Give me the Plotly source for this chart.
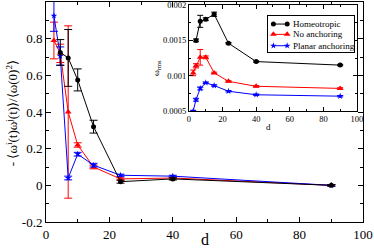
import plotly.graph_objects as go

# ---- data ----
d_main_h = [4.5, 7, 10, 15, 23.5, 40, 90]
corr_h = [0.725, 0.695, 0.575, 0.32, 0.02, 0.035, 0.0]
corr_h_err = [0.07, 0.155, 0.06, 0.035, 0.008, 0.006, 0.004]

d_main = [2.5, 4.5, 7, 10, 15, 23.5, 40, 90]
corr_n = [0.79, 0.72, 0.40, 0.22, 0.10, 0.035, 0.04, 0.0]
corr_n_err = [0.10, 0.05, 0.47, 0.012, 0.01, 0.006, 0.005, 0.004]
corr_p = [0.925, 0.705, 0.04, 0.17, 0.11, 0.055, 0.05, 0.0]
corr_p_err = [0.085, 0.05, 0.01, 0.01, 0.01, 0.006, 0.005, 0.004]

d_in_h = [4.2, 6.7, 10, 15, 23.5, 40, 90]
rms_h = [0.00150, 0.00177, 0.00180, 0.00187, 0.00146, 0.00120, 0.00115]
rms_h_err = [0.00002, 0.000085, 0.00002, 0.00003, 0.00001, 0.00001, 0.00001]

d_in = [2.5, 4.2, 6.7, 10, 15, 23.5, 40, 90]
rms_n = [0.00104, 0.00114, 0.00126, 0.00126, 0.00104, 0.00092, 0.00085, 0.00082]
rms_n_err = [0.00004, 0.00003, 0.00011, 0.00002, 0.00001, 0.00001, 0.00001, 0.00001]
rms_p = [0.00050, 0.00066, 0.00082, 0.00090, 0.00086, 0.00078, 0.00073, 0.00071]
rms_p_err = [0.00001, 0.00002, 0.00002, 0.00001, 0.00001, 0.00001, 0.00001, 0.00001]

series_names = ["Homeotropic", "No anchoring", "Planar anchoring"]
main_yticks = [-0.2, 0, 0.2, 0.4, 0.6, 0.8]
main_yticktext = ["-0.2", "0", "0.2", "0.4", "0.6", "0.8"]
xticks = [0, 20, 40, 60, 80, 100]
inset_yticks = [0.0005, 0.001, 0.0015, 0.002]
inset_yticktext = ["0.0005", "0.001", "0.0015", "0.002"]

FONT = "Liberation Serif"
BLACK, RED, BLUE = "#000000", "#ff0000", "#0000ff"
COLORS = [BLACK, RED, BLUE]
SYMBOLS = ["circle", "triangle-up", "star"]
MSIZES = [5, 6, 5]

fig = go.Figure()

def add(x, y, err, idx, xa, ya, capw=4):
    fig.add_trace(go.Scatter(
        x=x, y=y, mode="lines+markers", name=series_names[idx], showlegend=False,
        line=dict(color=COLORS[idx], width=1),
        marker=dict(color=COLORS[idx], symbol=SYMBOLS[idx], size=MSIZES[idx],
                    line=dict(width=0, color=COLORS[idx])),
        error_y=dict(type="data", array=err, visible=True, color=COLORS[idx],
                     thickness=1, width=capw),
        xaxis=xa, yaxis=ya,
    ))

# main
add(d_main, corr_n, corr_n_err, 1, "x", "y")
add(d_main, corr_p, corr_p_err, 2, "x", "y")
add(d_main_h, corr_h, corr_h_err, 0, "x", "y")

# inset
add(d_in_h, rms_h, rms_h_err, 0, "x2", "y2", 3)
add(d_in, rms_n, rms_n_err, 1, "x2", "y2", 3)
add(d_in, rms_p, rms_p_err, 2, "x2", "y2", 3)

# manual legend inside the inset (own small frame)
leg_rows = [0.776, 0.487, 0.168]
for i, name in enumerate(series_names):
    fig.add_trace(go.Scatter(
        x=[0.06, 0.22], y=[leg_rows[i], leg_rows[i]], mode="lines+markers",
        line=dict(color=COLORS[i], width=1),
        marker=dict(color=COLORS[i], symbol=SYMBOLS[i], size=MSIZES[i], line=dict(width=0)),
        xaxis="x3", yaxis="y3", showlegend=False, hoverinfo="skip"))
    fig.add_annotation(x=0.27, y=leg_rows[i], xref="x3", yref="y3", text=name,
                       showarrow=False, xanchor="left", yanchor="middle",
                       font=dict(size=9, family=FONT, color="black"))

axis_common = dict(showline=True, linecolor="black", linewidth=1, mirror="ticks",
                   ticks="inside", tickcolor="black", showgrid=False, zeroline=False,
                   automargin=False)

fig.update_layout(
    width=374, height=250,
    margin=dict(l=46, r=11, t=2, b=28),
    paper_bgcolor="white", plot_bgcolor="white",
    font=dict(family=FONT, color="black"),
    showlegend=False,
    xaxis=dict(range=[0, 100], tickvals=xticks, ticklen=5,
               minor=dict(dtick=10, ticks="inside", ticklen=3, tickcolor="black"),
               tickfont=dict(size=13, family=FONT), **axis_common),
    yaxis=dict(range=[-0.2, 1.0], tickvals=main_yticks, ticktext=main_yticktext, ticklen=5,
               minor=dict(dtick=0.1, ticks="inside", ticklen=3, tickcolor="black"),
               tickfont=dict(size=13, family=FONT), **axis_common),
    xaxis2=dict(domain=[0.451, 0.981], anchor="y2", range=[0, 100], tickvals=xticks, ticklen=4,
                minor=dict(dtick=10, ticks="inside", ticklen=2, tickcolor="black"),
                tickfont=dict(size=8.5, family=FONT), **axis_common),
    yaxis2=dict(domain=[0.5045, 0.986], anchor="x2", range=[0.0005, 0.002],
                tickvals=inset_yticks, ticktext=inset_yticktext, ticklen=4,
                minor=dict(dtick=0.00025, ticks="inside", ticklen=2, tickcolor="black"),
                tickfont=dict(size=8.5, family=FONT), **axis_common),
    xaxis3=dict(domain=[0.701, 0.9726], anchor="y3", range=[0, 1], showline=True,
                linecolor="black", linewidth=1, mirror=True, showticklabels=False,
                ticks="", showgrid=False, zeroline=False, fixedrange=True),
    yaxis3=dict(domain=[0.774, 0.936], anchor="x3", range=[0, 1], showline=True,
                linecolor="black", linewidth=1, mirror=True, showticklabels=False,
                ticks="", showgrid=False, zeroline=False, fixedrange=True),
)

# axis titles as annotations
fig.add_annotation(x=0.502, y=-0.127, xref="paper", yref="paper", text="d",
                   showarrow=False, font=dict(size=16, family=FONT), yanchor="bottom")
fig.add_annotation(x=-0.107, y=0.495, xref="paper", yref="paper",
                   text="- ⟨ω<sup>i</sup>(t)ω<sup>j</sup>(t)⟩/⟨ω(0)<sup>2</sup>⟩",
                   showarrow=False, textangle=-90, font=dict(size=13, family=FONT),
                   xanchor="center", yanchor="middle")
fig.add_annotation(x=0.716, y=0.432, xref="paper", yref="paper", text="d",
                   showarrow=False, font=dict(size=9, family=FONT), yanchor="middle")
fig.add_annotation(x=0.347, y=0.70, xref="paper", yref="paper", text="ω<sub>rms</sub>",
                   showarrow=False, textangle=-90, font=dict(size=9, family=FONT),
                   xanchor="center", yanchor="middle")

fig.write_html("out.html", config={"displayModeBar": False},
               post_script="document.body.style.margin='0';document.body.style.overflow='hidden';")
